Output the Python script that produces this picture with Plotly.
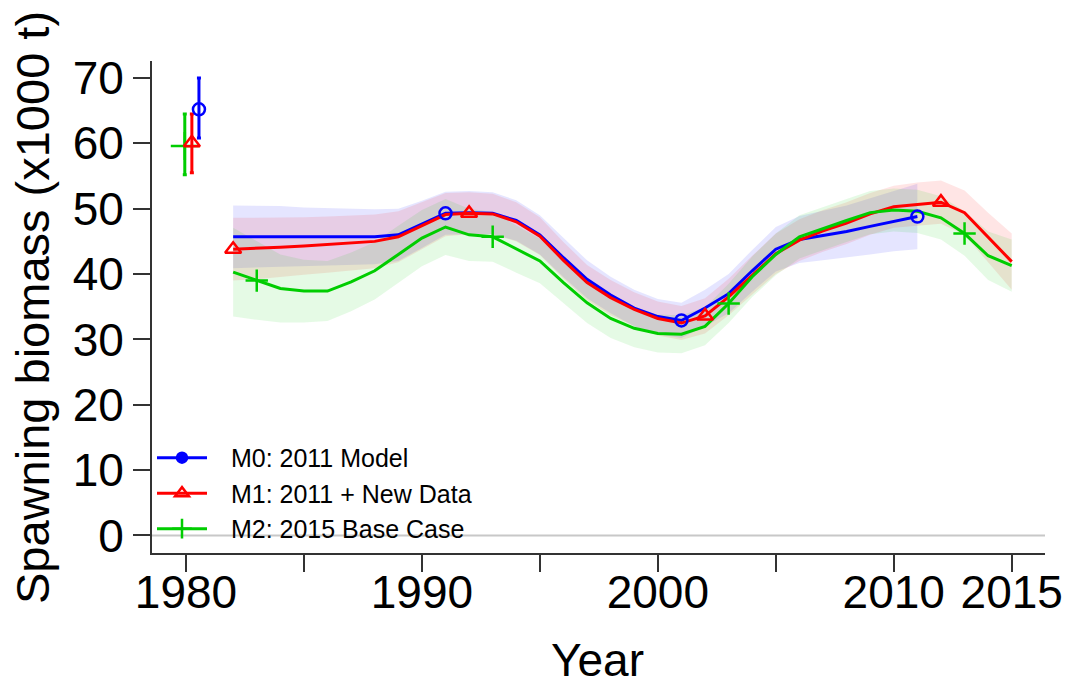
import plotly.graph_objects as go

# ---------------- data ----------------
model_names = ["M0: 2011 Model", "M1: 2011 + New Data", "M2: 2015 Base Case"]
colors = ["rgb(0,0,255)", "rgb(255,0,0)", "rgb(0,205,0)"]
band_colors = ["rgba(0,0,255,0.10)", "rgba(255,0,0,0.10)", "rgba(0,205,0,0.10)"]
symbols = ["circle-open", "triangle-up-open", "cross-thin-open"]

years_m0 = list(range(1982, 2012))
years_m12 = list(range(1982, 2016))

ssb_m0 = [45.7, 45.7, 45.7, 45.7, 45.7, 45.7, 45.7, 46.0, 47.6, 49.3,
          49.4, 49.3, 48.2, 46.0, 42.5, 39.2, 36.8, 34.8, 33.5, 32.9,
          34.8, 37.0, 40.5, 43.8, 45.3, 45.9, 46.5, 47.3, 48.1, 48.8]
ssb_m1 = [43.8, 43.9, 44.1, 44.3, 44.5, 44.7, 45.0, 45.7, 47.4, 49.1,
          49.3, 49.2, 48.0, 45.8, 42.1, 38.7, 36.4, 34.6, 33.2, 32.5,
          33.6, 36.5, 39.8, 43.1, 45.2, 46.6, 47.8, 49.2, 50.3, 50.7,
          51.0, 49.4, 45.6, 41.9]
ssb_m2 = [40.3, 39.0, 37.8, 37.4, 37.4, 38.8, 40.5, 43.0, 45.5, 47.2,
          46.0, 45.7, 43.8, 42.0, 38.7, 35.6, 33.2, 31.7, 30.9, 30.8,
          32.0, 35.5, 39.6, 43.0, 45.7, 47.0, 48.2, 49.4, 49.8, 49.6,
          48.6, 46.2, 42.8, 41.3]

# half-width of 95% intervals
ci_m0 = [4.8, 4.8, 4.7, 4.5, 4.4, 4.3, 4.2, 4.0, 3.6, 3.3,
         3.3, 3.2, 3.1, 3.0, 3.0, 2.9, 2.8, 2.8, 2.7, 2.7,
         2.8, 3.0, 3.2, 3.4, 3.6, 3.8, 4.0, 4.3, 4.6, 5.0]
ci_m1 = [4.8, 4.7, 4.6, 4.4, 4.3, 4.2, 4.1, 3.9, 3.6, 3.3,
         3.2, 3.1, 3.0, 2.9, 2.8, 2.7, 2.7, 2.6, 2.6, 2.6,
         2.7, 2.8, 3.0, 3.1, 3.2, 3.2, 3.2, 3.2, 3.2, 3.3,
         3.3, 3.4, 3.8, 4.3]
ci_m2 = [6.8, 6.0, 5.2, 4.8, 4.6, 4.5, 4.4, 4.4, 4.3, 4.3,
         4.0, 3.8, 3.6, 3.4, 3.2, 3.1, 3.0, 2.9, 2.9, 2.9,
         2.9, 3.0, 3.1, 3.2, 3.3, 3.3, 3.3, 3.3, 3.3, 3.3,
         3.3, 3.4, 3.7, 4.0]

marker_years = [[1991, 2001, 2011],
                [1982, 1992, 2002, 2012],
                [1983, 1993, 2003, 2013]]

# virgin (equilibrium) spawning biomass with intervals
virgin_year = [1980.55, 1980.25, 1979.95]
virgin_est = [65.2, 60.1, 59.6]
virgin_lo = [60.8, 55.5, 55.2]
virgin_hi = [70.0, 64.5, 64.5]

x_ticks = [1980, 1985, 1990, 1995, 2000, 2005, 2010, 2015]
x_ticktext = ["1980", "", "1990", "", "2000", "", "2010", "2015"]
y_ticks = [0, 10, 20, 30, 40, 50, 60, 70]

x_title = "Year"
y_title = "Spawning biomass (x1000 t)"

# ---------------- figure ----------------
FONT = "Liberation Sans, Arial, sans-serif"
fig = go.Figure()

series = [(years_m0, ssb_m0, ci_m0), (years_m12, ssb_m1, ci_m1), (years_m12, ssb_m2, ci_m2)]

# uncertainty bands
for i, (yrs, v, ci) in enumerate(series):
    up = [a + b for a, b in zip(v, ci)]
    lo = [a - b for a, b in zip(v, ci)]
    fig.add_trace(go.Scatter(
        x=list(yrs) + list(yrs)[::-1], y=up + lo[::-1],
        fill="toself", fillcolor=band_colors[i], line=dict(width=0),
        mode="lines", hoverinfo="skip", showlegend=False))

# lines
for i, (yrs, v, ci) in enumerate(series):
    fig.add_trace(go.Scatter(
        x=yrs, y=v, mode="lines", line=dict(color=colors[i], width=3),
        showlegend=False))

# point markers on lines
for i, (yrs, v, ci) in enumerate(series):
    mx = [y for y in marker_years[i] if y in yrs]
    my = [v[list(yrs).index(y)] for y in mx]
    fig.add_trace(go.Scatter(
        x=mx, y=my, mode="markers",
        marker=dict(symbol=symbols[i], size=[12, 14, 16][i], color=colors[i],
                    line=dict(color=colors[i], width=2.5)),
        showlegend=False))

# virgin biomass with error bars
for i in [2, 1, 0]:
    fig.add_trace(go.Scatter(
        x=[virgin_year[i]], y=[virgin_est[i]], mode="markers",
        marker=dict(symbol=symbols[i], size=[12, 14, 20][i], color=colors[i],
                    line=dict(color=colors[i], width=2.5)),
        error_y=dict(type="data", symmetric=False,
                     array=[virgin_hi[i] - virgin_est[i]],
                     arrayminus=[virgin_est[i] - virgin_lo[i]],
                     color=colors[i], thickness=3, width=2),
        showlegend=False))

# legend entries
pad = "\u00a0\u00a0\u2009"
for i in range(3):
    fig.add_trace(go.Scatter(
        x=[None], y=[None], mode="lines+markers", name=pad + model_names[i],
        line=dict(color=colors[i], width=3),
        marker=dict(symbol=symbols[i] if i else "circle", size=[10, 12, 14][i],
                    color=colors[i], line=dict(color=colors[i], width=2.5))))

# zero reference line
fig.add_shape(type="line", xref="paper", yref="y", x0=0, x1=1, y0=0, y1=0,
              line=dict(color="#C8C8C8", width=2), layer="below")

# axis titles
fig.add_annotation(text=y_title, xref="paper", yref="paper", x=-0.1344, y=0.5,
                   xanchor="center", yanchor="middle", textangle=-90, showarrow=False,
                   font=dict(family=FONT, size=47, color="black"))
fig.add_annotation(text=x_title, xref="paper", yref="paper", x=0.499, y=-0.2175,
                   xanchor="center", yanchor="middle", showarrow=False,
                   font=dict(family=FONT, size=46, color="black"))

axis_common = dict(showgrid=False, zeroline=False, showline=True,
                   linecolor="#333333", linewidth=2, ticks="outside",
                   ticklen=17, tickwidth=2, tickcolor="#333333",
                   automargin=False,
                   tickfont=dict(family=FONT, size=46, color="black"))

fig.update_layout(
    width=1070, height=685,
    margin=dict(l=152, r=25, t=61, b=132),
    paper_bgcolor="white", plot_bgcolor="white",
    font=dict(family=FONT, color="black"),
    xaxis=dict(range=[1978.56, 2016.41], tickvals=x_ticks, ticktext=x_ticktext,
               ticklabelstandoff=-19, **axis_common),
    yaxis=dict(range=[-2.68, 72.6], tickvals=y_ticks, ticksuffix="\u00a0",
               **axis_common),
    legend=dict(x=0.0, y=0.24, xanchor="left", yanchor="top",
                bgcolor="rgba(0,0,0,0)", font=dict(family=FONT, size=25),
                itemwidth=50, tracegroupgap=0),
    showlegend=True,
)

fig.write_html("out.html")
